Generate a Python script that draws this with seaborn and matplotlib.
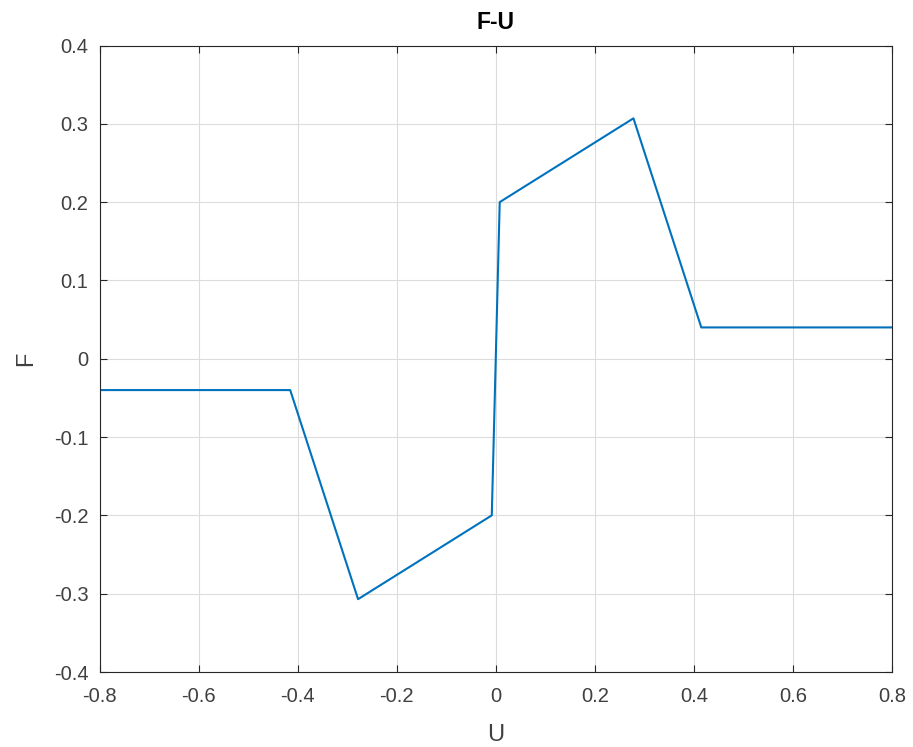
import matplotlib
matplotlib.use("Agg")
import matplotlib.pyplot as plt
import seaborn as sns
import pandas as pd

# Force–displacement curve vertices
u_values = [-0.8, -0.415, -0.278, -0.008, 0.008, 0.278, 0.415, 0.8]
f_values = [-0.04, -0.04, -0.307, -0.2, 0.2, 0.307, 0.04, 0.04]
x_ticks = [-0.8, -0.6, -0.4, -0.2, 0, 0.2, 0.4, 0.6, 0.8]
y_ticks = [-0.4, -0.3, -0.2, -0.1, 0, 0.1, 0.2, 0.3, 0.4]

sns.set_theme(style="white")
plt.rcParams["font.family"] = ["Liberation Sans", "DejaVu Sans"]

df = pd.DataFrame({"U": u_values, "F": f_values})

fig = plt.figure(figsize=(9.13, 7.47), dpi=100)
ax = fig.add_axes([99.5 / 913, 1 - 672 / 747, (892 - 99.5) / 913, (672 - 45.5) / 747])

sns.lineplot(data=df, x="U", y="F", sort=False, estimator=None,
             color="#0072BD", linewidth=1.5, ax=ax)

ax.set_xlim(-0.8, 0.8)
ax.set_ylim(-0.4, 0.4)
ax.set_xticks(x_ticks)
ax.set_yticks(y_ticks)
ax.set_xticklabels([f"{v:g}" for v in x_ticks])
ax.set_yticklabels([f"{v:g}" for v in y_ticks])

ax.grid(True, color="#dcdcdc", linewidth=0.8)
ax.set_axisbelow(True)
for side in ax.spines.values():
    side.set_visible(True)
    side.set_color("#262626")
    side.set_linewidth(0.8)

ax.tick_params(axis="both", direction="in", length=5, width=0.8,
               colors="#262626", labelsize=14.5, top=True, right=True,
               bottom=True, left=True, labelcolor="#404040")
ax.tick_params(axis="x", pad=11)
ax.tick_params(axis="y", pad=8)

ax.set_xlabel("U", fontsize=17, color="#404040", labelpad=13)
ax.set_ylabel("F", fontsize=17, color="#404040", labelpad=12)
ax.set_title("F-U", fontsize=16.5, fontweight="bold", color="black", pad=12)

fig.savefig("out.png", dpi=100)
